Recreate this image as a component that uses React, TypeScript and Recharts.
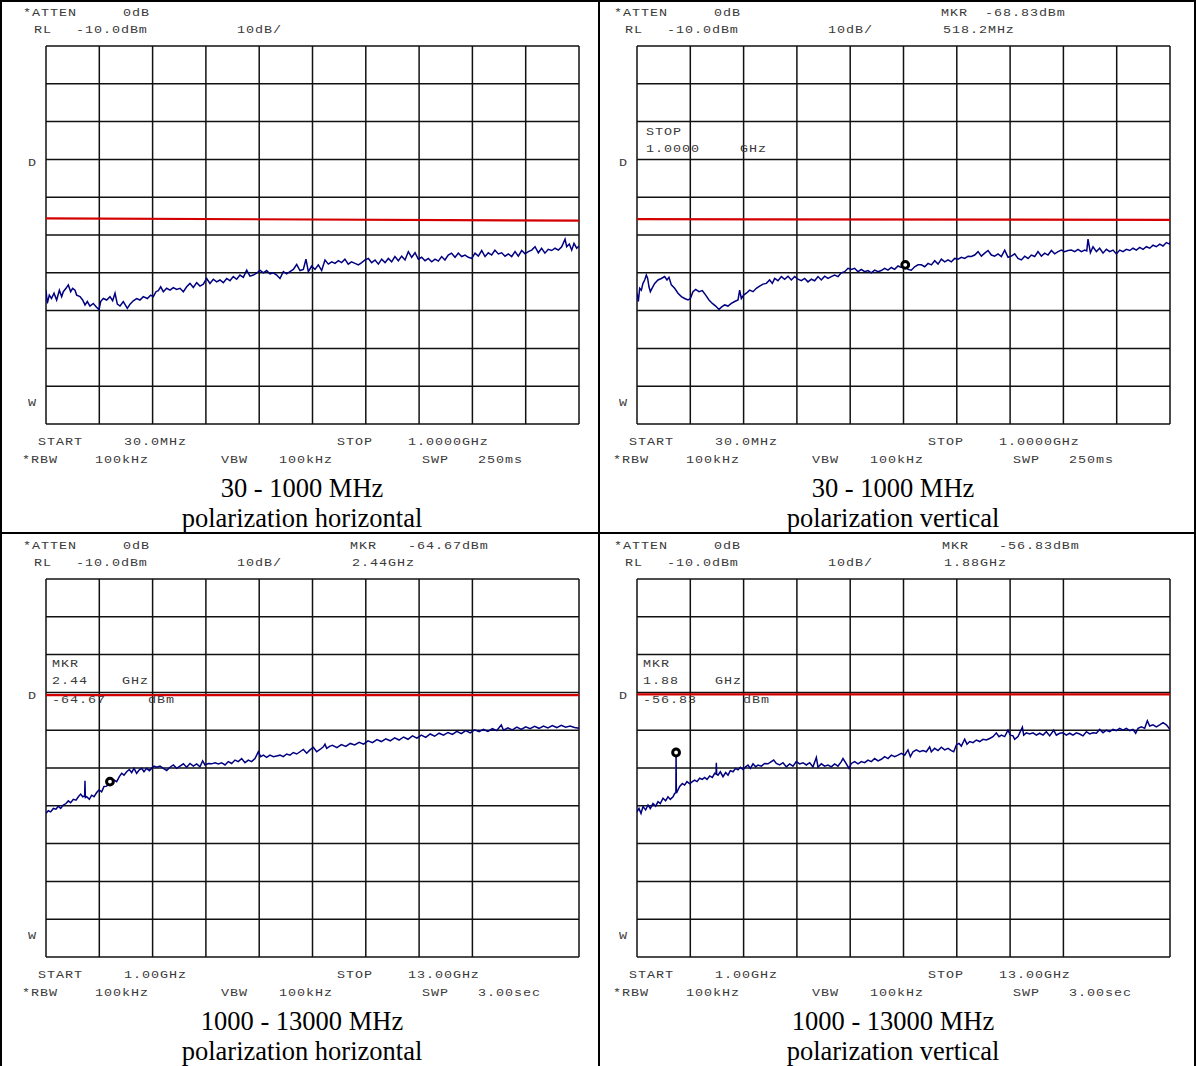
import { LineChart, Line, XAxis, YAxis, CartesianGrid, ReferenceDot } from "recharts";

// trace readings: [frequency, level dBm]; low band in MHz, high band in GHz
const H_LOW_TRACE: [number, number][] = [
  [30, -74.6], [32.4, -78.1], [36, -75.9], [40, -76.8], [44.6, -75.4], [49.4, -77.2], [54.3, -74.6], [58.5, -76.3],
  [61.5, -75.0], [66.4, -74.1], [70.6, -73.2], [74.9, -75.0], [78.5, -74.1], [82.8, -74.6], [85.8, -75.9], [91.9, -76.3],
  [96.7, -77.2], [101, -78.5], [105.2, -77.6], [110, -78.8], [116, -78.1], [122, -79.1], [126.5, -79.7], [129.5, -77.6],
  [134.3, -76.8], [140.4, -77.2], [146.5, -76.3], [151.3, -77.4], [155.6, -75.4], [159.8, -78.3], [164.7, -78.8], [170.7, -77.6],
  [178, -79.4], [182.9, -78.3], [188.9, -77.4], [195, -76.8], [201, -77.2], [207.1, -76.3], [214.4, -76.8], [220.5, -75.9],
  [225.3, -76.3], [230.2, -75.0], [234.4, -74.7], [238.7, -73.7], [243.5, -75.0], [249.6, -74.1], [255.7, -74.6], [261.7, -73.9],
  [267.8, -74.4], [273.9, -74.1], [279.9, -75.0], [286, -73.7], [292, -72.8], [298.1, -73.9], [304.2, -72.6], [310.2, -73.5],
  [316.3, -73.0], [322.4, -71.5], [328.4, -72.8], [334.5, -71.7], [340.6, -72.4], [346.6, -71.9], [352.7, -72.6], [358.8, -71.5],
  [364.8, -72.1], [370.9, -71.0], [377, -71.7], [383, -70.6], [389.1, -71.2], [395.2, -69.3], [401.2, -70.9], [407.3, -70.6],
  [413.4, -70.1], [419.4, -69.3], [425.5, -70.0], [431.6, -69.4], [437.6, -70.3], [443.7, -70.0], [449.8, -70.6], [455.8, -71.5],
  [461.9, -69.7], [468, -70.3], [474, -69.7], [480.1, -69.1], [486.2, -67.8], [492.2, -69.4], [498.3, -69.1], [503.1, -66.4],
  [507.4, -69.7], [513.5, -68.2], [519.5, -69.1], [525.6, -67.9], [531.7, -69.4], [537.7, -66.6], [543.8, -67.7],
  [550, -67.1], [556, -67.5], [562, -66.8], [568, -67.3], [574, -66.4], [580, -67.7], [586, -67.1], [592.4, -67.5],
  [598.5, -67.9], [604.5, -67.3], [610.6, -66.6], [616.7, -66.2], [622.7, -67.3], [628.8, -66.6], [634.9, -67.7], [640.9, -66.4],
  [647, -67.3], [653, -66.2], [659, -67.1], [665, -65.7], [671.2, -66.8], [677.3, -65.6], [683.4, -66.6], [689.4, -64.4],
  [695.5, -65.9], [701.6, -64.7], [707.6, -66.4], [713.7, -65.9], [719.8, -66.8], [725.8, -66.2], [731.9, -67.1], [738, -66.4],
  [744, -66.9], [750, -65.7], [756, -66.6], [762, -65.3], [768, -64.8], [774.4, -65.9], [780.4, -64.8], [786.5, -65.7],
  [792.6, -65.3], [798.6, -65.9], [804.7, -66.2], [810.8, -64.8], [816.8, -65.6], [822.9, -64.1], [829, -65.7], [835, -64.7],
  [841, -65.3], [847, -64.0], [853.2, -65.0], [859.3, -64.7], [865.4, -65.6], [871.4, -65.0], [877.5, -65.7], [883.6, -64.4],
  [889.6, -65.6], [895.7, -64.1], [901.8, -65.0], [907.8, -64.4], [913.9, -64.0], [920, -63.1], [926, -64.7], [932, -63.5],
  [938, -64.8], [944, -63.8], [950.3, -64.1], [956.4, -63.5], [962.5, -64.0], [968.5, -63.1], [974.6, -61.1], [977.6, -63.1],
  [982.4, -62.4], [986.7, -64.0], [990.9, -62.2], [995.8, -63.5], [1000, -62.9],
];

const V_LOW_TRACE: [number, number][] = [
  [30, -75.4], [32.4, -77.6], [34.9, -74.1], [37.9, -74.6], [40.9, -72.8], [44, -71.9], [47, -70.6], [49.4, -71.5],
  [51.8, -73.7], [54.3, -75.0], [57.3, -74.1], [62.2, -72.8], [68.2, -71.9], [74.3, -71.5], [80.3, -71.0], [84.6, -71.9],
  [88.2, -71.2], [92.5, -73.2], [98.5, -74.1], [104.6, -75.4], [110.7, -76.3], [116.7, -76.8], [122.8, -77.2], [127.1, -76.8],
  [131.9, -75.0], [136.8, -74.4], [142.8, -75.0], [148.9, -74.7], [155, -75.9], [161, -77.2], [167.1, -78.1], [173.2, -78.8],
  [179.2, -79.7], [183.5, -79.1], [189.5, -78.5], [195.6, -78.8], [201.7, -78.1], [207.7, -77.6], [213.8, -77.2], [216.8, -74.6],
  [219.9, -76.8], [224.1, -75.9], [229, -75.4], [235, -74.6], [241.1, -75.0], [247.2, -74.1], [253.2, -73.5], [259.3, -73.0],
  [265.4, -72.8], [271.4, -71.9], [276.3, -72.8], [280.5, -71.5], [286.6, -72.1], [292.7, -71.0], [298.7, -71.7], [304.8, -70.9],
  [310.9, -71.9], [316.9, -71.0], [323, -71.7], [329, -72.1], [335.1, -71.5], [341.2, -72.4], [347.3, -71.7], [353.3, -72.1],
  [359.4, -71.0], [365.4, -71.9], [371.5, -70.9], [377.6, -71.5], [383.6, -71.0], [389.7, -70.6], [395.8, -71.0], [401.8, -70.0],
  [407.9, -69.7], [414, -68.8], [420, -69.1], [426.1, -68.8], [432.2, -69.7], [438.2, -69.1], [444.3, -69.7], [450.4, -69.4],
  [456.4, -70.0], [462.5, -69.3], [468.6, -69.7], [474.6, -69.4], [480.7, -68.8], [486.8, -69.3], [492.8, -68.6], [498.9, -69.1],
  [505, -68.2], [511, -68.6], [518.2, -67.9], [523.2, -69.1], [529.2, -69.3], [535.3, -68.4], [541.4, -67.9],
  [547.5, -67.9], [553.6, -68.4], [559.7, -67.5], [565.7, -67.9], [571.8, -66.8], [577.9, -67.7], [583.9, -66.4], [590, -67.1],
  [596.1, -66.6], [602.1, -67.1], [608.2, -66.2], [614.3, -66.4], [620.3, -65.9], [626.4, -66.2], [632.5, -65.6], [638.5, -65.7],
  [644.6, -65.3], [650.7, -64.4], [656.7, -65.6], [662.8, -64.8], [668.9, -64.1], [674.9, -65.3], [681, -65.6], [687, -65.0],
  [693.1, -65.7], [699.2, -64.0], [705.2, -65.9], [711.3, -65.6], [717.4, -65.0], [723.4, -66.2], [729.5, -66.6], [735.6, -65.6],
  [741.6, -66.2], [747.7, -65.3], [753.8, -65.7], [759.8, -64.4], [765.9, -65.6], [772, -64.8], [778, -65.3], [784.1, -64.1],
  [790.2, -65.0], [796.2, -64.4], [802.3, -64.0], [808.4, -64.4], [814.4, -64.1], [820.5, -64.0], [826.6, -64.4], [832.6, -63.8],
  [838.7, -64.4], [844.8, -64.0], [848.5, -64.2], [850.8, -61.1], [855.1, -64.7], [859.9, -63.1], [866, -64.4], [872, -63.5],
  [878.1, -64.8], [884.2, -63.8], [890.3, -64.4], [896.3, -64.0], [902.4, -65.0], [908.5, -64.0], [914.5, -64.4], [920.6, -63.8],
  [926.7, -64.1], [932.7, -63.5], [938.8, -64.0], [944.9, -63.3], [950.9, -63.8], [957, -63.1], [963.1, -63.5], [969.1, -62.7],
  [975.2, -63.1], [981.2, -62.4], [987.3, -62.9], [993.4, -62.0], [999.4, -62.4], [1000, -61.8],
];

const H_HIGH_TRACE: [number, number][] = [
  [1.0, -72.0], [1.053, -71.3], [1.105, -71.6], [1.165, -70.7], [1.225, -70.9], [1.278, -70.1], [1.33, -70.7], [1.39, -69.8],
  [1.45, -69.4], [1.503, -68.7], [1.555, -69.2], [1.615, -68.3], [1.675, -68.5], [1.728, -67.6], [1.78, -66.9], [1.826, -67.6],
  [1.87, -67.4], [1.878, -63.4], [1.886, -67.8], [1.916, -67.6], [1.976, -68.3], [2.028, -67.2], [2.081, -67.6], [2.141, -66.5],
  [2.193, -65.8], [2.253, -66.3], [2.306, -64.9], [2.366, -64.8], [2.44, -63.6], [2.478, -64.1], [2.531, -63.2], [2.591, -63.6],
  [2.651, -62.3], [2.704, -61.4], [2.756, -61.9], [2.816, -61.0], [2.876, -60.4], [2.929, -61.2], [2.981, -60.1], [3.041, -61.4],
  [3.101, -60.5], [3.154, -60.1], [3.206, -61.0], [3.266, -60.1], [3.326, -60.7], [3.379, -60.1], [3.432, -59.5], [3.492, -59.8],
  [3.567, -59.5], [3.642, -60.1], [3.717, -60.7], [3.792, -59.8], [3.867, -59.2], [3.942, -60.1], [4.017, -59.5], [4.092, -58.9],
  [4.167, -59.8], [4.242, -58.8], [4.317, -59.5], [4.392, -58.9], [4.467, -59.7], [4.527, -58.1], [4.58, -59.2], [4.655, -58.8],
  [4.73, -58.9], [4.805, -58.6], [4.88, -58.9], [4.955, -58.6], [5.03, -59.2], [5.105, -58.3], [5.18, -58.8], [5.255, -57.9],
  [5.33, -58.3], [5.405, -57.5], [5.48, -58.6], [5.555, -57.9], [5.63, -58.3], [5.705, -57.5], [5.78, -55.7], [5.833, -57.0],
  [5.893, -56.6], [5.968, -57.2], [6.043, -56.6], [6.118, -57.0], [6.193, -56.8], [6.268, -56.6], [6.343, -57.0], [6.418, -56.3],
  [6.493, -56.6], [6.568, -55.9], [6.644, -56.3], [6.719, -55.7], [6.794, -55.1], [6.869, -56.1], [6.944, -55.2], [7.019, -54.5],
  [7.094, -55.7], [7.169, -55.1], [7.244, -54.4], [7.281, -53.7], [7.319, -54.8], [7.394, -54.2],
  [7.45, -54.0], [7.55, -54.6], [7.65, -53.8], [7.75, -54.3], [7.85, -53.5], [7.95, -53.9], [8.05, -53.2], [8.15, -53.7],
  [8.25, -52.8], [8.35, -53.3], [8.45, -52.5], [8.55, -53.0], [8.65, -52.3], [8.75, -52.8], [8.85, -52.0], [8.95, -52.6],
  [9.05, -51.8], [9.15, -52.4], [9.25, -51.5], [9.35, -52.1], [9.45, -51.3], [9.55, -51.9], [9.65, -51.0], [9.75, -51.6],
  [9.85, -50.8], [9.95, -51.3], [10.05, -50.6], [10.15, -51.1], [10.25, -50.3], [10.35, -50.9], [10.45, -50.1], [10.55, -50.7],
  [10.65, -49.9], [10.75, -50.4], [10.85, -49.8], [10.95, -50.3], [11.05, -49.6], [11.15, -50.1], [11.25, -48.6], [11.3, -50.0],
  [11.4, -49.4], [11.5, -49.9], [11.6, -49.2], [11.7, -49.8], [11.8, -49.1], [11.9, -49.6], [12.0, -49.0], [12.1, -49.5],
  [12.2, -48.9], [12.3, -49.4], [12.4, -48.8], [12.5, -49.3], [12.6, -48.7], [12.7, -49.2], [12.8, -48.9], [12.9, -49.3],
  [13.0, -49.5],
];

const V_HIGH_TRACE: [number, number][] = [
  [1.0, -71.6], [1.045, -70.7], [1.09, -72.0], [1.135, -70.2], [1.195, -71.1], [1.248, -69.8], [1.3, -70.7], [1.36, -69.4],
  [1.42, -70.1], [1.473, -68.9], [1.525, -69.4], [1.585, -68.0], [1.645, -68.7], [1.698, -67.6], [1.75, -68.3], [1.811, -67.6],
  [1.848, -66.7], [1.875, -66.6], [1.88, -55.8], [1.886, -66.0], [1.901, -66.3], [1.961, -64.9], [2.021, -64.1], [2.073, -64.5],
  [2.126, -63.6], [2.186, -64.2], [2.246, -63.6], [2.298, -63.2], [2.351, -63.6], [2.411, -62.7], [2.471, -63.0], [2.523, -62.5],
  [2.576, -63.0], [2.636, -62.1], [2.696, -62.5], [2.749, -61.4], [2.78, -61.6], [2.786, -58.6], [2.795, -61.7], [2.824, -61.9],
  [2.876, -61.0], [2.936, -62.3], [2.996, -61.2], [3.049, -61.9], [3.101, -60.7], [3.161, -61.0], [3.221, -60.1], [3.274, -60.5],
  [3.326, -59.8], [3.387, -60.4], [3.447, -59.7], [3.499, -59.2], [3.552, -60.1], [3.612, -58.9], [3.672, -59.7], [3.724, -59.2],
  [3.799, -59.5], [3.874, -58.8], [3.949, -58.9], [4.024, -58.3], [4.077, -57.9], [4.137, -58.8], [4.212, -59.2], [4.287, -58.6],
  [4.362, -59.7], [4.437, -58.9], [4.512, -59.5], [4.587, -58.3], [4.662, -58.9], [4.737, -58.6], [4.812, -59.2], [4.887, -58.6],
  [4.962, -59.7], [5.038, -57.2], [5.075, -59.8], [5.15, -58.9], [5.225, -59.5], [5.3, -59.2], [5.375, -59.7], [5.45, -58.9],
  [5.525, -59.5], [5.6, -58.3], [5.638, -57.5], [5.713, -58.9], [5.773, -60.1], [5.826, -58.8], [5.901, -58.3], [5.976, -58.9],
  [6.051, -58.3], [6.126, -58.6], [6.201, -57.9], [6.276, -58.3], [6.351, -57.5], [6.426, -58.1], [6.501, -57.7], [6.576, -57.0],
  [6.651, -57.5], [6.726, -56.6], [6.801, -57.0], [6.876, -56.6], [6.951, -56.1], [7.026, -56.6], [7.101, -55.2], [7.154, -57.0],
  [7.214, -55.7], [7.289, -55.2], [7.364, -55.7],
  [7.439, -55.4], [7.514, -55.7], [7.589, -54.4], [7.627, -55.7], [7.702, -54.8], [7.777, -55.4], [7.852, -54.5], [7.927, -55.2],
  [8.002, -54.8], [8.077, -55.4], [8.13, -55.7], [8.19, -53.9], [8.25, -53.5], [8.302, -54.2], [8.377, -52.4], [8.43, -53.7],
  [8.49, -53.0], [8.565, -53.3], [8.64, -52.6], [8.715, -53.0], [8.79, -52.4], [8.865, -52.6], [8.94, -52.2], [9.015, -51.7],
  [9.09, -50.7], [9.15, -51.7], [9.203, -51.3], [9.278, -51.7], [9.353, -50.0], [9.406, -51.3], [9.466, -51.5], [9.503, -52.4],
  [9.578, -51.7], [9.676, -49.2], [9.706, -51.3], [9.766, -50.7], [9.841, -51.0], [9.916, -50.7], [9.991, -51.3], [10.066, -50.8],
  [10.141, -51.3], [10.216, -50.4], [10.291, -51.5], [10.381, -50.0], [10.441, -51.3], [10.516, -50.8], [10.591, -50.7], [10.666, -51.3],
  [10.741, -50.8], [10.816, -51.3], [10.891, -50.7], [10.966, -51.0], [11.041, -51.5], [11.117, -50.4], [11.192, -51.0], [11.267, -50.7],
  [11.342, -50.8], [11.417, -49.8], [11.492, -50.7], [11.567, -50.0], [11.642, -50.4], [11.717, -49.8], [11.792, -50.1], [11.867, -49.5],
  [11.942, -50.0], [12.017, -49.5], [12.092, -50.1], [12.167, -49.8], [12.227, -50.8], [12.28, -49.5], [12.355, -49.1], [12.43, -49.5],
  [12.49, -47.5], [12.543, -48.9], [12.618, -48.6], [12.693, -49.1], [12.768, -48.6], [12.843, -48.0], [12.918, -48.6], [12.978, -49.5],
  [13.0, -49.7],
];

// limit lines
const H_LOW_LIMIT: [number, number][] = [[30, -55.6], [1000, -56.2]];
const V_LOW_LIMIT: [number, number][] = [[30, -55.8], [1000, -56.0]];
const H_HIGH_LIMIT: [number, number][] = [[1, -40.7], [13, -40.7]];
const V_HIGH_LIMIT: [number, number][] = [[1, -40.5], [13, -40.5]];

// marker positions on the trace
const V_LOW_MARKER: [number, number] = [518.2, -67.9];
const H_HIGH_MARKER: [number, number] = [2.44, -63.6];
const V_HIGH_MARKER: [number, number] = [1.88, -55.9];

const LEVEL_TICKS = [-110, -100, -90, -80, -70, -60, -50, -40, -30, -20, -10];
const LOW_TICKS = Array.from({ length: 11 }, (_, i) => 30 + i * 97);
const HIGH_TICKS = Array.from({ length: 11 }, (_, i) => 1 + i * 1.2);

type Txt = [number, number, string];

const COMMON_TEXT: Txt[] = [
  [23, 14, "*ATTEN"], [123, 14, "0dB"],
  [34, 31, "RL"], [76, 31, "-10.0dBm"], [237, 31, "10dB/"],
  [28, 164, "D"], [28, 404, "W"],
  [38, 443, "START"], [337, 443, "STOP"],
  [22, 461, "*RBW"], [95, 461, "100kHz"], [221, 461, "VBW"], [279, 461, "100kHz"], [422, 461, "SWP"],
];
const LOW_TEXT: Txt[] = [[124, 443, "30.0MHz"], [408, 443, "1.0000GHz"], [478, 461, "250ms"]];
const HIGH_TEXT: Txt[] = [[124, 443, "1.00GHz"], [408, 443, "13.00GHz"], [478, 461, "3.00sec"]];
const P2_TEXT: Txt[] = [
  [350, 14, "MKR"], [394, 14, "-68.83dBm"], [352, 31, "518.2MHz"],
  [55, 133, "STOP"], [55, 150, "1.0000"], [149, 150, "GHz"],
];
const P3_TEXT: Txt[] = [
  [350, 14, "MKR"], [408, 14, "-64.67dBm"], [352, 31, "2.44GHz"],
  [52, 132, "MKR"], [52, 149, "2.44"], [122, 149, "GHz"], [52, 168, "-64.67"], [148, 168, "dBm"],
];
const P4_TEXT: Txt[] = [
  [351, 14, "MKR"], [408, 14, "-56.83dBm"], [353, 31, "1.88GHz"],
  [52, 132, "MKR"], [52, 149, "1.88"], [124, 149, "GHz"], [52, 168, "-56.83"], [152, 168, "dBm"],
];

const monoStyle: React.CSSProperties = {
  position: "absolute",
  fontFamily: "'Liberation Mono', monospace",
  fontSize: 10,
  lineHeight: "12px",
  letterSpacing: 0.7,
  color: "#3a3a3a",
  whiteSpace: "pre",
  transform: "scaleX(1.34)",
  transformOrigin: "left center",
};

function Panel({
  dx,
  dy,
  trace,
  limit,
  domain,
  ticks,
  marker,
  texts,
  caption,
}: {
  dx: number;
  dy: number;
  trace: [number, number][];
  limit: [number, number][];
  domain: [number, number];
  ticks: number[];
  marker?: [number, number];
  texts: Txt[];
  caption: [string, string];
}) {
  const traceData = trace.map(([f, v]) => ({ f, v }));
  const limitData = limit.map(([f, v]) => ({ f, v }));
  return (
    <>
      <div style={{ position: "absolute", left: dx + 36, top: dy + 36 }}>
        <LineChart width={553} height={398} margin={{ top: 10, right: 10, bottom: 10, left: 10 }}>
          <CartesianGrid stroke="#111" strokeWidth={1.5} />
          <XAxis dataKey="f" type="number" domain={domain} ticks={ticks} allowDataOverflow hide />
          <YAxis type="number" domain={[-110, -10]} ticks={LEVEL_TICKS} allowDataOverflow hide />
          <Line data={limitData} dataKey="v" stroke="#d40000" strokeWidth={2.2} dot={false} isAnimationActive={false} />
          <Line data={traceData} dataKey="v" stroke="#000080" strokeWidth={1.5} dot={false} isAnimationActive={false} />
          {marker && (
            <ReferenceDot x={marker[0]} y={marker[1]} r={3.4} fill="#fff" stroke="#000" strokeWidth={3} />
          )}
        </LineChart>
      </div>
      {texts.map(([x, y, s], i) => (
        <div key={i} style={{ ...monoStyle, left: dx + x, top: dy + y - 6 }}>
          {s}
        </div>
      ))}
      {caption.map((c, i) => (
        <div
          key={c}
          style={{
            position: "absolute",
            left: dx + 2,
            width: 600,
            top: dy + 475 + i * 30,
            textAlign: "center",
            fontFamily: "'Liberation Serif', serif",
            fontSize: 26.5,
            lineHeight: "26px",
            color: "#000",
          }}
        >
          {c}
        </div>
      ))}
    </>
  );
}

const bar = (left: number, top: number, width: number, height: number): React.CSSProperties => ({
  position: "absolute",
  left,
  top,
  width,
  height,
  background: "#000",
});

export default function App() {
  return (
    <div style={{ position: "absolute", left: 0, top: 0, width: 1196, height: 1066, background: "#fff", overflow: "hidden" }}>
      <Panel
        dx={0}
        dy={0}
        trace={H_LOW_TRACE}
        limit={H_LOW_LIMIT}
        domain={[30, 1000]}
        ticks={LOW_TICKS}
        texts={[...COMMON_TEXT, ...LOW_TEXT]}
        caption={["30 - 1000 MHz", "polarization horizontal"]}
      />
      <Panel
        dx={591}
        dy={0}
        trace={V_LOW_TRACE}
        limit={V_LOW_LIMIT}
        domain={[30, 1000]}
        ticks={LOW_TICKS}
        marker={V_LOW_MARKER}
        texts={[...COMMON_TEXT, ...LOW_TEXT, ...P2_TEXT]}
        caption={["30 - 1000 MHz", "polarization vertical"]}
      />
      <Panel
        dx={0}
        dy={533}
        trace={H_HIGH_TRACE}
        limit={H_HIGH_LIMIT}
        domain={[1, 13]}
        ticks={HIGH_TICKS}
        marker={H_HIGH_MARKER}
        texts={[...COMMON_TEXT, ...HIGH_TEXT, ...P3_TEXT]}
        caption={["1000 - 13000 MHz", "polarization horizontal"]}
      />
      <Panel
        dx={591}
        dy={533}
        trace={V_HIGH_TRACE}
        limit={V_HIGH_LIMIT}
        domain={[1, 13]}
        ticks={HIGH_TICKS}
        marker={V_HIGH_MARKER}
        texts={[...COMMON_TEXT, ...HIGH_TEXT, ...P4_TEXT]}
        caption={["1000 - 13000 MHz", "polarization vertical"]}
      />
      <div style={bar(0, 0, 1196, 2)} />
      <div style={bar(0, 0, 2, 1066)} />
      <div style={bar(1194, 0, 2, 1066)} />
      <div style={bar(598, 0, 2, 1066)} />
      <div style={bar(0, 532, 1196, 2)} />
    </div>
  );
}
